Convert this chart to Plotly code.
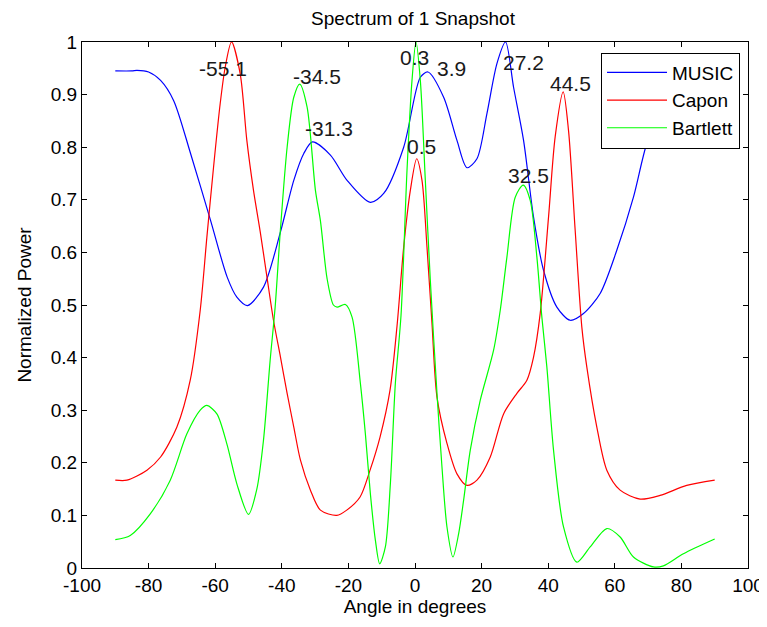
import plotly.graph_objects as go

# ---------------- data ----------------
music_angle = [-90, -85, -83.5, -80, -76.4, -72.5, -67.4, -61.4, -56.4, -53.5, -50.3, -45.5,
               -40.4, -36.4, -33.4, -30.8, -25.4, -20.4, -13.4, -9.4, -3.4, 1.6, 3.9, 8.6, 12.6,
               15.6, 18.6, 21.6, 24.6, 27.2, 29.6, 32.6, 35.6, 38.6, 42.6, 46.6, 50.6,
               55.6, 60.6, 65.6, 69.6, 75, 80, 85, 90]
music_power = [0.945, 0.945, 0.946, 0.943, 0.927, 0.889, 0.788, 0.661, 0.553, 0.515, 0.499, 0.534,
               0.639, 0.737, 0.788, 0.810, 0.785, 0.737, 0.695, 0.712, 0.800, 0.933, 0.943, 0.895,
               0.813, 0.761, 0.778, 0.864, 0.959, 1.000, 0.914, 0.813, 0.667, 0.566, 0.496, 0.471,
               0.484, 0.522, 0.604, 0.705, 0.807, 0.890, 0.935, 0.950, 0.955]

capon_angle = [-90, -86.5, -80.5, -76.4, -71.5, -67.5, -64.5, -62.5, -60.5, -58.5, -57, -55.1,
               -52.5, -50.5, -48.5, -46.5, -44.5, -42.5, -40.4, -38.4, -36.4, -34.4, -31.4, -28.4,
               -23.5, -20.5, -16.5, -13.5, -10.5, -7.5, -5.4, -3.4, -1.4, 0.5, 2.1, 3.6, 5.1, 6.6,
               9.6, 12.6, 15.6, 18.6, 22.6, 26.6, 30.6, 33.6, 35.6, 37.6, 40.1, 42.1, 44.5, 46.1,
               48.1, 50.1, 51.6, 54.6, 57.6, 61.6, 67.6, 73.6, 81.6, 90]
capon_power = [0.167, 0.167, 0.186, 0.211, 0.268, 0.357, 0.490, 0.629, 0.762, 0.883, 0.952, 1.000,
               0.940, 0.813, 0.718, 0.640, 0.555, 0.471, 0.401, 0.332, 0.268, 0.205, 0.148, 0.110,
               0.100, 0.110, 0.135, 0.186, 0.249, 0.338, 0.460, 0.610, 0.718, 0.778, 0.737, 0.610,
               0.465, 0.325, 0.237, 0.179, 0.157, 0.167, 0.211, 0.293, 0.332, 0.357, 0.401, 0.484,
               0.667, 0.820, 0.905, 0.832, 0.642, 0.458, 0.382, 0.268, 0.186, 0.148, 0.131, 0.138,
               0.157, 0.167]

bartlett_angle = [-90, -85.5, -79.5, -73.5, -68.5, -64.5, -62.5, -59.5, -56.5, -53.5, -50, -47.5,
                  -45.5, -43.5, -42, -40.5, -38.4, -36.4, -34.6, -32.4, -29.9, -28.4, -26.4, -24.5,
                  -23.4, -20.9, -18.9, -16.4, -14.9, -13.4, -11.9, -10.6, -8.9, -7.4, -5.9, -4.2,
                  -2.4, -0.9, 0.3, 1.6, 3.1, 4.6, 6.6, 8.1, 9.6, 11.4, 13.1, 14.6, 16.6, 19.6, 23.6,
                  25.6, 27.6, 30.1, 32.5, 34.6, 36.6, 38.1, 39.6, 41.6, 44.6, 48.6, 52.6, 57.6, 61.6,
                  65.6, 71.6, 74.6, 80.6, 90]
bartlett_power = [0.054, 0.062, 0.103, 0.167, 0.255, 0.300, 0.309, 0.293, 0.236, 0.160, 0.102, 0.150,
                  0.243, 0.395, 0.496, 0.636, 0.800, 0.895, 0.920, 0.876, 0.718, 0.660, 0.550, 0.500,
                  0.496, 0.501, 0.477, 0.351, 0.255, 0.141, 0.053, 0.008, 0.040, 0.160, 0.351, 0.480,
                  0.756, 0.927, 1.000, 0.927, 0.737, 0.547, 0.332, 0.192, 0.078, 0.021, 0.065, 0.129,
                  0.224, 0.319, 0.414, 0.490, 0.591, 0.705, 0.728, 0.699, 0.591, 0.477, 0.382, 0.224,
                  0.078, 0.011, 0.040, 0.075, 0.059, 0.021, 0.002, 0.004, 0.027, 0.055]

# peak labels: angle, power at the peak
peak_angles = [-55.1, -34.5, -31.3, 0.3, 3.9, 0.5, 27.2, 44.5, 32.5]
peak_powers = [1.000, 0.918, 0.810, 1.000, 0.943, 0.778, 1.000, 0.905, 0.728]
# label offsets in pixels (styling)
label_dx = [-9, 17, 18, -2, 24, 5, 18, 7, 5]
label_dy = [-26, 9, 13, -15, 3, 12, -20, 8, 10]

x_ticks = [-100, -80, -60, -40, -20, 0, 20, 40, 60, 80, 100]
y_ticks = [0, 0.1, 0.2, 0.3, 0.4, 0.5, 0.6, 0.7, 0.8, 0.9, 1]

FONT = "Liberation Sans, Arial, sans-serif"

# the page adds an 8px body margin, so the figure is sized to fill the window from there
W, H = 759, 619

fig = go.Figure()
for name, xs, ys, col in [("MUSIC", music_angle, music_power, "#0000FF"),
                          ("Capon", capon_angle, capon_power, "#FF0000"),
                          ("Bartlett", bartlett_angle, bartlett_power, "#00FF00")]:
    fig.add_trace(go.Scatter(x=xs, y=ys, mode="lines", name=name, legendgroup=name,
                             line=dict(color=col, width=1.2, shape="spline", smoothing=0.8)))

for a, p, dx, dy in zip(peak_angles, peak_powers, label_dx, label_dy):
    fig.add_annotation(x=a, y=p, text=f"{a:g}", showarrow=False, xshift=dx, yshift=dy,
                       xanchor="center", yanchor="middle",
                       font=dict(family=FONT, size=21, color="#1a1a1a"))

axis_common = dict(showline=True, linecolor="black", linewidth=1, mirror="ticks",
                   ticks="inside", ticklen=5, tickcolor="black", showgrid=False, zeroline=False,
                   automargin=False,
                   tickfont=dict(family=FONT, size=19, color="black"))

fig.update_layout(
    width=W, height=H,
    paper_bgcolor="white", plot_bgcolor="white",
    margin=dict(l=74, r=19, t=34, b=59),
    title=dict(text="Spectrum of 1 Snapshot", x=405 / W, xanchor="center", y=1 - 10 / H,
               yanchor="middle", font=dict(family=FONT, size=19, color="black")),
    xaxis=dict(range=[-100, 100], tickvals=x_ticks, ticktext=[str(v) for v in x_ticks],
               title=dict(text="Angle in degrees", standoff=4,
                          font=dict(family=FONT, size=19, color="black")),
               **axis_common),
    yaxis=dict(range=[0, 1], tickvals=y_ticks, ticktext=[f"{v:g}" for v in y_ticks],
               title=dict(text="Normalized Power", standoff=14,
                          font=dict(family=FONT, size=19, color="black")),
               **axis_common),
    legend=dict(x=0.988, xanchor="right", y=0.98, yanchor="top",
                bgcolor="white", bordercolor="black", borderwidth=1,
                font=dict(family=FONT, size=19, color="black"),
                tracegroupgap=0, itemwidth=60),
    showlegend=True,
)

fig.write_html("out.html")
